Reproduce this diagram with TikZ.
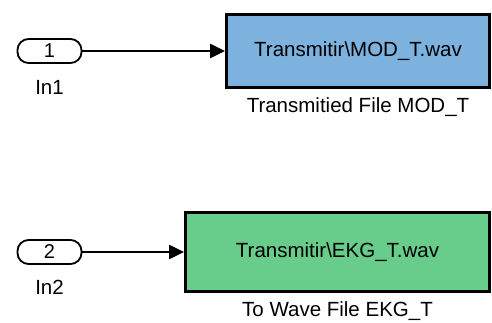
\documentclass[tikz,border=0pt]{standalone}
\usepackage{fontspec}
\setmainfont{Liberation Sans}
\usetikzlibrary{positioning,arrows.meta}

\definecolor{blockblue}{RGB}{126,178,222}
\definecolor{blockgreen}{RGB}{104,204,138}

\begin{document}
\begin{tikzpicture}[x=1pt,y=1pt,
  inport/.style={draw,line width=1.8pt,rounded corners=11pt,minimum width=64pt,minimum height=24pt,inner sep=0pt,font=\fontsize{20}{22}\selectfont},
  wavblock/.style={draw,line width=2.8pt,inner sep=0pt,font=\fontsize{20.5}{22}\selectfont},
  lbl/.style={inner sep=0pt,font=\fontsize{20.5}{22}\selectfont},
  sig/.style={line width=2.2pt,-{Triangle[length=15pt,width=14pt]}}]
\useasboundingbox (0,0) rectangle (492,322);
% first path
\node[inport] (in1) at (49.5,271) {1};
\node[lbl,below=16pt of in1] (in1lbl) {In1};
\node[wavblock,fill=blockblue,minimum width=263pt,minimum height=73pt] (modblk) at (358,271) {Transmitir\textbackslash MOD\_T.wav};
\node[lbl,below=9pt of modblk] (modlbl) {Transmitied File MOD\_T};
\draw[sig] (in1) -- (modblk);
% second path
\node[inport] (in2) at (49.5,70) {2};
\node[lbl,below=15pt of in2] (in2lbl) {In2};
\node[wavblock,fill=blockgreen,minimum width=304pt,minimum height=79pt] (ekgblk) at (337.5,70) {Transmitir\textbackslash EKG\_T.wav};
\node[lbl,below=9pt of ekgblk] (ekglbl) {To Wave File EKG\_T};
\draw[sig] (in2) -- (ekgblk);
\end{tikzpicture}
\end{document}
